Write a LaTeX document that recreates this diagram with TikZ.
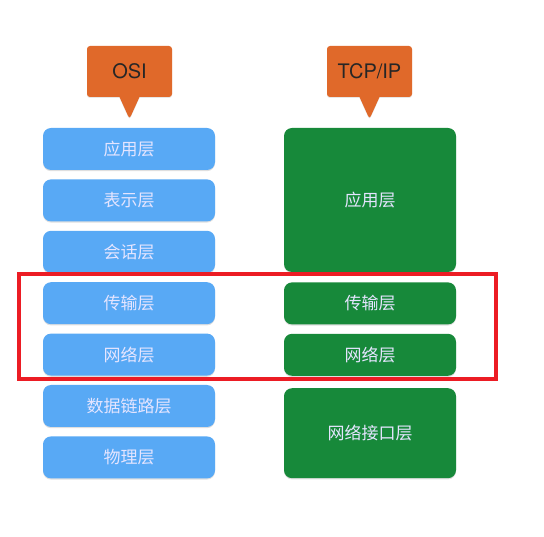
\documentclass[tikz,border=0pt]{standalone}
\usepackage{fontspec}
\setmainfont{Noto Sans CJK SC}
\newfontfamily\tagfont{TeX Gyre Heros}
\usetikzlibrary{positioning,shapes.callouts,shadows}
\definecolor{osiblue}{HTML}{58A9F5}
\definecolor{tcpgreen}{HTML}{17893A}
\definecolor{tagorange}{HTML}{E0692A}
\definecolor{framered}{HTML}{EC1C24}
\tikzset{
x=1pt, y=-1pt,
every node/.style={font=\fontsize{17}{19}\selectfont},
layer/.style={rectangle, rounded corners=8pt, minimum width=172pt, text=white!90!blue,
  drop shadow={shadow xshift=0pt, shadow yshift=-1.2pt, opacity=0.25}},
}

\begin{document}
\begin{tikzpicture}
    [node distance=9pt,
    osilayer/.style={layer, fill=osiblue, minimum height=42pt},
    tcplayer/.style={layer, fill=tcpgreen},
    tag/.style={rectangle callout, fill=tagorange, rounded corners=3pt,
      minimum width=85pt, minimum height=51pt, text=black!85,
      font=\tagfont\fontsize{20}{22}\selectfont, callout pointer width=20pt,
      drop shadow={shadow xshift=0pt, shadow yshift=-1pt, opacity=0.2}}
    ]

    \useasboundingbox (0,0) rectangle (544,537);

    % labels on top
    \coordinate (ositip) at (129.5,119);
    \coordinate (tcptip) at (369.5,119);
    \node [tag, callout absolute pointer={(ositip)}] (osi) at (129.5,71.5) {OSI};
    \node [tag, callout absolute pointer={(tcptip)}] (tcpip) at (369.5,71.5) {TCP/IP};

    % OSI column
    \node [osilayer] (o1) at (129,149) {应用层};
    \node [osilayer] (o2) [below=of o1] {表示层};
    \node [osilayer] (o3) [below=of o2] {会话层};
    \node [osilayer] (o4) [below=of o3] {传输层};
    \node [osilayer] (o5) [below=of o4] {网络层};
    \node [osilayer] (o6) [below=of o5] {数据链路层};
    \node [osilayer] (o7) [below=of o6] {物理层};

    % TCP/IP column
    \node [tcplayer, minimum height=144pt] (t1) at (370,200) {应用层};
    \node [tcplayer, minimum height=42pt] (t2) [below=10pt of t1] {传输层};
    \node [tcplayer, minimum height=42pt] (t3) [below=of t2] {网络层};
    \node [tcplayer, minimum height=90pt] (t4) [below=12pt of t3] {网络接口层};

    % highlight
    \draw [framered, line width=4pt] (19,274) rectangle (496,379);

\end{tikzpicture}
\end{document}
